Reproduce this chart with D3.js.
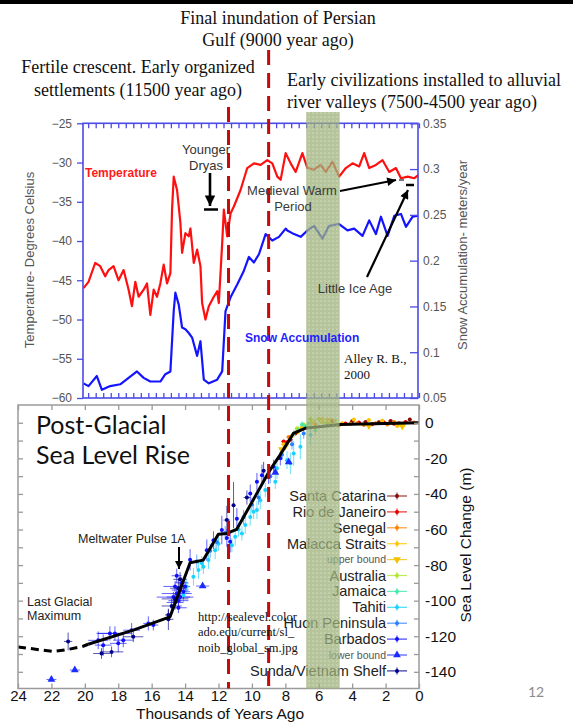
<!DOCTYPE html>
<html><head><meta charset="utf-8">
<script src="https://cdn.jsdelivr.net/npm/d3@7"></script>
<style>body{margin:0;background:#fff}svg{display:block}</style>
</head><body>
<svg id="c" width="573" height="722"></svg>
<script>
// ---------------- DATA ----------------
// GISP2 temperature (kyr BP, deg C)
const temperature = [[20.08,-46.0],[19.78,-45.2],[19.38,-42.8],[19.08,-43.2],[18.78,-44.5],[18.58,-43.7],[18.28,-43.2],[17.98,-45.0],[17.68,-43.7],[17.38,-46.2],[17.18,-48.3],[16.98,-45.2],[16.78,-47.1],[16.48,-46.2],[16.28,-45.4],[16.08,-49.4],[15.88,-46.2],[15.68,-47.1],[15.48,-45.4],[15.28,-43.0],[15.08,-45.4],[14.88,-44.1],[14.78,-36.0],[14.68,-31.8],[14.48,-33.5],[14.28,-37.7],[14.18,-41.5],[13.98,-39.0],[13.78,-39.4],[13.68,-38.4],[13.48,-42.8],[13.28,-41.1],[13.08,-43.2],[12.98,-47.9],[12.78,-50.0],[12.58,-48.3],[12.28,-47.1],[12.08,-46.4],[11.98,-47.9],[11.78,-40.3],[11.68,-36.0],[11.48,-39.4],[11.28,-36.5],[11.08,-35.6],[10.68,-33.5],[10.28,-30.7],[9.88,-30.1],[9.48,-30.3],[9.08,-29.7],[8.78,-30.1],[8.48,-31.8],[8.28,-32.2],[7.98,-28.8],[7.68,-30.1],[7.38,-31.2],[6.98,-28.8],[6.68,-30.7],[6.28,-30.9],[5.88,-30.3],[5.58,-31.2],[5.18,-29.9],[4.78,-31.8],[4.38,-30.7],[3.98,-30.1],[3.58,-30.5],[3.28,-28.8],[2.98,-30.7],[2.58,-30.3],[2.18,-29.7],[1.78,-31.2],[1.38,-30.7],[1.08,-32.0],[0.68,-31.8],[0.28,-32.0],[0.04,-31.6]];
// GISP2 snow accumulation (kyr BP, m/yr)
const snow = [[20.08,0.066],[19.78,0.063],[19.28,0.074],[18.98,0.059],[18.48,0.063],[17.88,0.065],[17.38,0.072],[16.88,0.079],[16.48,0.072],[16.08,0.068],[15.48,0.068],[15.18,0.076],[14.88,0.079],[14.68,0.145],[14.58,0.165],[14.38,0.152],[14.18,0.127],[13.98,0.125],[13.78,0.121],[13.58,0.116],[13.28,0.096],[13.08,0.112],[12.88,0.070],[12.58,0.066],[12.08,0.070],[11.78,0.079],[11.58,0.145],[11.28,0.160],[10.88,0.174],[10.48,0.189],[10.18,0.204],[9.88,0.198],[9.58,0.207],[9.18,0.229],[8.78,0.222],[8.38,0.226],[7.98,0.235],[7.88,0.233],[7.48,0.229],[7.08,0.226],[6.68,0.233],[6.28,0.238],[5.78,0.224],[5.38,0.238],[4.78,0.240],[4.28,0.233],[3.88,0.235],[3.38,0.227],[2.98,0.244],[2.58,0.229],[2.28,0.248],[1.88,0.227],[1.48,0.249],[1.08,0.251],[0.78,0.237],[0.38,0.248],[0.04,0.249]];
// Sea level fit (kyr BP, m)
const seaFitDashed = [[24,-126],[21.9,-128.6],[21.0,-127.4],[20.1,-125.6],[19.8,-124.5]];
const seaFit = [[19.8,-124.5],[17.10,-116.6],[14.90,-109.1],[13.70,-78.7],[12.91,-77.2],[12.01,-62.7],[11.51,-62.2],[10.91,-59.9],[8.92,-26.6],[8.32,-18.2],[7.52,-6.0],[6.82,-3.1],[4.73,-0.9],[0,0]];
// Sea level observations [kyr BP, m, age err, depth err]
const santaCatarina = [[0.55,1.8,0.1,1],[1.7,1.0,0.15,0.8],[2.4,0.3,0.15,0.8],[3.2,0.5,0.15,0.8],[1.2,-0.3,0.15,0.8],[4.0,0.8,0.15,0.8]];
const rioDeJaneiro = [[0.8,0.5,0.15,0.8],[1.5,-0.5,0.15,0.8],[2.1,0.2,0.15,0.8],[2.8,-0.8,0.15,0.8],[3.6,0.2,0.15,0.8],[4.4,-0.4,0.15,0.8],[5.2,0.9,0.15,0.8],[7.7,-9.5,0.15,1],[7.9,-11,0.15,1],[7.4,-6,0.15,1],[8.1,-10.5,0.15,1]];
const senegal = [[0.3,0.2,0.15,0.8],[1.0,-0.8,0.15,0.8],[1.9,-1.0,0.15,0.8],[2.6,-0.2,0.15,0.8],[3.3,-1.2,0.15,0.8],[4.1,-0.6,0.15,0.8],[4.8,-1.5,0.15,0.8],[5.5,-0.5,0.15,0.8],[6.2,-1.0,0.15,0.8],[7.3,-5,0.15,1],[7.8,-8,0.15,1],[1.5,0.5,0.15,0.8],[3.7,-0.3,0.15,0.8]];
const malacca = [[1.3,-1.8,0.15,1],[2.2,1.2,0.15,1],[3.0,1.5,0.15,1],[4.6,-0.2,0.15,1],[5.8,0.5,0.15,1],[6.6,-1.5,0.15,1],[7.0,-2.5,0.15,1],[7.6,-7.5,0.15,1],[8.1,-12,0.15,1],[3.9,1.8,0.15,1]];
const upperBound = [[5.4,1.5,0.3,0],[5.9,2,0.3,0],[6.4,0.5,0.3,0],[8.0,-13,0.2,0],[8.2,-15,0.2,0],[7.2,-4,0.2,0],[3.0,-1.5,0.2,0],[1.0,-1.8,0.2,0]];
const australia = [[5.0,1,0.15,1],[5.6,0,0.15,1.5],[6.0,1.8,0.15,1],[6.5,2.2,0.15,1.5],[6.9,-1,0.15,1],[7.3,-3.2,0.15,1.5],[5.3,-0.5,0.15,1]];
const jamaica = [[6.8,-2,0.1,1.5],[7.2,-4,0.1,2],[7.0,-1,0.1,2],[6.6,-0.5,0.1,1.5],[7.5,-6,0.1,2],[6.2,-4,0.1,3]];
const tahiti = [[14.1,-96.9,0.05,4],[13.9,-92.2,0.05,4],[13.5,-86.6,0.05,5],[13.2,-82.8,0.05,5],[13.0,-79,0.05,4],[12.9,-81,0.05,4],[12.6,-77.2,0.05,5],[12.2,-71.6,0.05,5],[12.0,-68,0.05,4],[11.2,-68.8,0.05,4],[11.0,-64.1,0.05,5],[10.8,-60,0.05,4],[10.6,-62.2,0.05,4],[10.4,-57.5,0.05,5],[10.1,-52.9,0.05,5],[9.9,-50,0.05,4],[9.7,-49.1,0.05,5],[9.5,-43.5,0.05,5],[9.2,-37.8,0.05,4],[8.6,-33.2,0.05,4],[8.5,-25.6,0.05,6],[7.9,-21,0.05,5],[7.7,-22.8,0.05,6],[7.5,-17.2,0.05,7],[7.1,-13.5,0.05,7],[6.5,-6.9,0.05,6]];
const huon = [[13.3,-78,0.1,4],[12.5,-72,0.1,4],[11.6,-62,0.1,4],[10.5,-53,0.1,4],[9.6,-42,0.1,4],[8.9,-30,0.1,4],[8.2,-18,0.1,3],[7.6,-12,0.1,3],[6.9,-6,0.1,3],[12.1,-67,0.1,4],[10.0,-46,0.1,4]];
const barbados = [[19.2,-122.3,0.6,5],[18.9,-125,0.5,6],[18.5,-118.4,0.8,4],[18.2,-118.4,1.0,4],[18.0,-124,0.5,5],[17.7,-122.2,0.6,4],[17.2,-116.6,0.5,4],[16.2,-112.8,0.3,4],[15.9,-113.7,0.3,3],[14.6,-92,0.7,3],[14.5,-96,0.9,3],[14.4,-100,0.6,4],[14.7,-98,1.0,3],[14.3,-94,0.5,4],[14.2,-90,0.4,3],[14.5,-86,0.3,4],[14.4,-104,0.5,3],[14.3,-98,0.8,3],[14.6,-101,0.5,4],[14.1,-95,0.4,4],[14.0,-92,0.3,3],[13.7,-77,0.1,6],[12.7,-71.6,0.1,6],[11.8,-60.3,0.1,8],[11.5,-64.8,0.1,5],[11.3,-66.9,0.1,6],[10.1,-39.7,0.1,5],[9.7,-33.2,0.1,5],[9.4,-29.5,0.1,6],[9.0,-30.4,0.1,4],[8.7,-24.7,0.1,4],[8.3,-20,0.1,4],[10.9,-54,0.1,6],[12.3,-66,0.1,5]];
const lowerBound = [[22.0,-144.3,0.3,0],[20.6,-139,0.3,0],[12.95,-91.8,0.4,0],[7.8,-22,0.1,0],[8.6,-28,0.1,0]];
const sunda = [[21.0,-122.9,0.25,5],[19.0,-129.7,0.5,3],[18.4,-128.8,0.7,3],[17.1,-120.3,0.6,3],[15.0,-110.5,0.3,6],[15.0,-108,0.2,3],[14.8,-103,0.6,4],[14.6,-99,0.8,3],[14.4,-93,0.5,5],[14.3,-88,0.4,4],[11.5,-54.7,0.2,8],[11.1,-46.3,0.1,13],[10.3,-42,0.2,4],[9.3,-27,0.1,5]];
// events and periods (kyr BP)
const eventAges = [11.4, 9.0];
const civBand = [6.75, 4.75];
// tick values
const tempTicks = [-25,-30,-35,-40,-45,-50,-55,-60];
const snowTicks = [0.05,0.1,0.15,0.2,0.25,0.3,0.35];
const ageTicks = [24,22,20,18,16,14,12,10,8,6,4,2,0];
const seaTicks = [0,-20,-40,-60,-80,-100,-120,-140];

// ---------------- CHART ----------------
const svg = d3.select("#c");
const SANS = "'Liberation Sans', Arial, sans-serif";
const SERIF = "'Liberation Serif', 'Times New Roman', serif";

const x = d3.scaleLinear().domain([24,0]).range([18,419]);
const yT = d3.scaleLinear().domain([-60,-25]).range([398,123.3]);
const yS = d3.scaleLinear().domain([0.05,0.35]).range([398,123.3]);
const yM = d3.scaleLinear().domain([-150,10]).range([689.6,405]);

const defs = svg.append("defs");
const pat = defs.append("pattern").attr("id","dots").attr("width",4).attr("height",4).attr("patternUnits","userSpaceOnUse");
pat.append("rect").attr("width",4).attr("height",4).attr("fill","#9cb078");
pat.append("circle").attr("cx",1).attr("cy",1).attr("r",0.6).attr("fill","#fff").attr("opacity",0.85);
defs.append("clipPath").attr("id","lowclip").append("rect").attr("x",18).attr("y",405).attr("width",401).attr("height",283.5);
const ah = defs.append("marker").attr("id","ah").attr("viewBox","0 0 10 10").attr("refX",10).attr("refY",5)
  .attr("markerWidth",4.5).attr("markerHeight",4).attr("orient","auto").attr("markerUnits","strokeWidth");
ah.append("path").attr("d","M0,0L10,5L0,10Z").attr("fill","#000");

// top slide border
svg.append("rect").attr("x",0).attr("y",0).attr("width",573).attr("height",4).attr("fill","#000");

// ---- top panel ----
const BLUE = "#4a4ae6";
const lineT = d3.line().x(d=>x(d[0])).y(d=>yT(d[1]));
const lineS = d3.line().x(d=>x(d[0])).y(d=>yS(d[1]));
svg.append("path").attr("d",lineS(snow)).attr("fill","none").attr("stroke","#1414ff").attr("stroke-width",2.2).attr("stroke-linejoin","round");
svg.append("path").attr("d",lineT(temperature)).attr("fill","none").attr("stroke","#ff1010").attr("stroke-width",2.2).attr("stroke-linejoin","round");

function styleAxis(g, color, labelColor, size){
  g.selectAll(".domain").remove();
  g.selectAll(".tick line").attr("stroke",color).attr("stroke-width",1.3);
  g.selectAll(".tick text").attr("fill",labelColor).attr("font-family",SANS).attr("font-size",size);
}
const gL = svg.append("g").attr("transform","translate(83,0)")
  .call(d3.axisLeft(yT).tickValues(tempTicks).tickSizeInner(6).tickSizeOuter(0).tickPadding(5));
styleAxis(gL, BLUE, "#555", 12);
const gR = svg.append("g").attr("transform","translate(418,0)")
  .call(d3.axisRight(yS).tickValues(snowTicks).tickSizeInner(-8).tickSizeOuter(0).tickPadding(5).tickFormat(d3.format(".2~f")));
styleAxis(gR, BLUE, "#555", 12);
const topTicks = d3.range(0, 20.1, 0.45);
const gTt = svg.append("g").attr("transform","translate(0,123.3)")
  .call(d3.axisTop(x).tickValues(topTicks).tickSizeInner(-5).tickSizeOuter(0).tickFormat(""));
styleAxis(gTt, BLUE, "#555", 12);
const gTb = svg.append("g").attr("transform","translate(0,398)")
  .call(d3.axisBottom(x).tickValues(topTicks).tickSizeInner(-5).tickSizeOuter(0).tickFormat(""));
styleAxis(gTb, BLUE, "#555", 12);
svg.append("rect").attr("x",83).attr("y",123.3).attr("width",335).attr("height",274.7)
  .attr("fill","none").attr("stroke",BLUE).attr("stroke-width",1.6);

svg.append("text").attr("transform","translate(34,260) rotate(-90)").attr("text-anchor","middle")
  .attr("font-family",SANS).attr("font-size",13).attr("fill","#555").text("Temperature- Degrees Celsius");
svg.append("text").attr("transform","translate(467,255) rotate(-90)").attr("text-anchor","middle")
  .attr("font-family",SANS).attr("font-size",13).attr("fill","#555").text("Snow Accumulation- meters/year");

// ---- lower panel ----
const low = svg.append("g").attr("clip-path","url(#lowclip)");
const sites = [
  {name:"Santa Catarina", color:"#8b0a0a", sym:"dot", data:santaCatarina},
  {name:"Rio de Janeiro", color:"#e60000", sym:"dot", data:rioDeJaneiro},
  {name:"Senegal", color:"#ff8000", sym:"dot", data:senegal},
  {name:"Malacca Straits", color:"#ffc400", sym:"dot", data:malacca},
  {name:"upper bound", color:"#f2c200", sym:"down", data:upperBound, small:true},
  {name:"Australia", color:"#b2e62a", sym:"dot", data:australia},
  {name:"Jamaica", color:"#40eaa8", sym:"dot", data:jamaica},
  {name:"Tahiti", color:"#18d2ff", sym:"dot", data:tahiti},
  {name:"Huon Peninsula", color:"#2a7fff", sym:"dot", data:huon},
  {name:"Barbados", color:"#1010ff", sym:"dot", data:barbados},
  {name:"lower bound", color:"#1a2cff", sym:"up", data:lowerBound, small:true},
  {name:"Sunda/Vietnam Shelf", color:"#00008b", sym:"dot", data:sunda}
];
const tri = d3.symbol().type(d3.symbolTriangle).size(26);
function drawMark(g, sym, color, cx, cy){
  if(sym==="dot") g.append("circle").attr("cx",cx).attr("cy",cy).attr("r",2).attr("fill",color);
  else g.append("path").attr("d",tri()).attr("fill",color)
    .attr("transform",`translate(${cx},${cy})${sym==="down"?" rotate(180)":""}`);
}
sites.forEach(s=>{
  s.data.forEach(d=>{
    const cx=x(d[0]), cy=yM(d[1]);
    if(d[2]>0) low.append("line").attr("x1",x(d[0]+d[2])).attr("x2",x(d[0]-d[2])).attr("y1",cy).attr("y2",cy)
      .attr("stroke",s.color).attr("stroke-width",1).attr("opacity",0.65);
    if(d[3]>0) low.append("line").attr("x1",cx).attr("x2",cx).attr("y1",yM(d[1]-d[3])).attr("y2",yM(d[1]+d[3]))
      .attr("stroke",s.color).attr("stroke-width",1).attr("opacity",0.65);
  });
});
sites.forEach(s=>{ s.data.forEach(d=> drawMark(low, s.sym, s.color, x(d[0]), yM(d[1]))); });

const lineM = d3.line().x(d=>x(d[0])).y(d=>yM(d[1]));
low.append("path").attr("d",lineM(seaFitDashed)).attr("fill","none").attr("stroke","#000").attr("stroke-width",3).attr("stroke-dasharray","8,5");
low.append("path").attr("d",lineM(seaFit)).attr("fill","none").attr("stroke","#000").attr("stroke-width",3).attr("stroke-linejoin","round");

const GRAY = "#9a9a9a";
const gBb = svg.append("g").attr("transform","translate(0,688.5)")
  .call(d3.axisBottom(x).tickValues(ageTicks).tickSizeInner(-5).tickSizeOuter(0).tickPadding(2));
styleAxis(gBb, GRAY, "#111", 15);
const gBt = svg.append("g").attr("transform","translate(0,405)")
  .call(d3.axisTop(x).tickValues(ageTicks).tickSizeInner(-5).tickSizeOuter(0).tickFormat(""));
styleAxis(gBt, GRAY, "#111", 16);
const minor = d3.range(-140, 10, 10);
const gBl = svg.append("g").attr("transform","translate(18,0)")
  .call(d3.axisLeft(yM).tickValues(minor).tickSizeInner(-5).tickSizeOuter(0).tickFormat(""));
styleAxis(gBl, GRAY, "#111", 16);
const gBr = svg.append("g").attr("transform","translate(419,0)")
  .call(d3.axisRight(yM).tickValues(minor).tickSizeInner(-5).tickSizeOuter(0).tickPadding(6)
    .tickFormat(d=> seaTicks.includes(d) ? d : ""));
styleAxis(gBr, GRAY, "#111", 15.5);
svg.append("rect").attr("x",18).attr("y",405).attr("width",401).attr("height",283.5)
  .attr("fill","none").attr("stroke",GRAY).attr("stroke-width",1.5);

svg.append("text").attr("transform","translate(471,545) rotate(-90)").attr("text-anchor","middle")
  .attr("font-family",SANS).attr("font-size",15.5).attr("fill","#111").text("Sea Level Change (m)");
svg.append("text").attr("x",220).attr("y",718.5).attr("text-anchor","middle")
  .attr("font-family",SANS).attr("font-size",15.5).attr("fill","#111").text("Thousands of Years Ago");

// legend
const leg = svg.append("g");
sites.forEach((s,i)=>{
  const ly = 496 + i*15.9;
  leg.append("text").attr("x",386).attr("y",ly).attr("dy","0.35em").attr("text-anchor","end")
    .attr("font-family",SANS).attr("font-size", s.small?10.5:14.5).attr("fill", s.small?"#555":"#222").text(s.name);
  leg.append("line").attr("x1",387).attr("x2",407).attr("y1",ly).attr("y2",ly).attr("stroke",s.color).attr("stroke-width",1.2).attr("opacity",0.8);
  if(s.sym==="dot") leg.append("line").attr("x1",397).attr("x2",397).attr("y1",ly-3.5).attr("y2",ly+3.5).attr("stroke",s.color).attr("stroke-width",1.2).attr("opacity",0.8);
  drawMark(leg, s.sym, s.color, 397, ly);
});

// civilization band (semi-opaque, dotted)
svg.append("rect").attr("x",x(civBand[0])).attr("y",112).attr("width",x(civBand[1])-x(civBand[0])).attr("height",576.5)
  .attr("fill","url(#dots)").attr("opacity",0.75);

// event dashed lines
const eventTops = [107, 50];
eventAges.forEach((a,i)=>{
  svg.append("line").attr("x1",x(a)).attr("x2",x(a)).attr("y1",eventTops[i]).attr("y2",688.5)
    .attr("stroke","#c40a0a").attr("stroke-width",3).attr("stroke-dasharray","15,8");
});

// ---- annotations (top panel) ----
function txt(xp,yp,s,opt={}){
  return svg.append("text").attr("x",xp).attr("y",yp).attr("text-anchor",opt.anchor||"start")
    .attr("font-family",opt.family||SANS).attr("font-size",opt.size||12).attr("font-weight",opt.weight||"normal")
    .attr("fill",opt.fill||"#222").text(s);
}
txt(85,177,"Temperature",{fill:"#ff1a1a",weight:"bold",size:12});
txt(245,342,"Snow Accumulation",{fill:"#1f1fff",weight:"bold",size:12});
txt(206,154,"Younger",{anchor:"middle",size:13,fill:"#333"});
txt(206,170,"Dryas",{anchor:"middle",size:13,fill:"#333"});
svg.append("line").attr("x1",210).attr("y1",173).attr("x2",210).attr("y2",206).attr("stroke","#000").attr("stroke-width",2.6).attr("marker-end","url(#ah)");
svg.append("line").attr("x1",204).attr("y1",209.5).attr("x2",218).attr("y2",209.5).attr("stroke","#000").attr("stroke-width",2.5);
txt(292,195,"Medieval Warm",{anchor:"middle",size:13,fill:"#3a3a3a"});
txt(293,211,"Period",{anchor:"middle",size:13,fill:"#3a3a3a"});
svg.append("line").attr("x1",340).attr("y1",191).attr("x2",396).attr("y2",180).attr("stroke","#000").attr("stroke-width",2.2).attr("marker-end","url(#ah)");
svg.append("line").attr("x1",399).attr("y1",180).attr("x2",404).attr("y2",180).attr("stroke","#777").attr("stroke-width",2);
svg.append("line").attr("x1",406).attr("y1",185).attr("x2",414).attr("y2",185).attr("stroke","#000").attr("stroke-width",2.5);
txt(355,293,"Little Ice Age",{anchor:"middle",size:13,fill:"#3a3a3a"});
svg.append("line").attr("x1",367).attr("y1",277).attr("x2",408).attr("y2",190).attr("stroke","#000").attr("stroke-width",2.2).attr("marker-end","url(#ah)");
txt(344,363,"Alley R. B.,",{family:SERIF,size:13,fill:"#111"});
txt(344,379,"2000",{family:SERIF,size:13,fill:"#111"});

// ---- annotations (lower panel) ----
txt(36,434,"Post-Glacial",{family:"Lato, 'Open Sans', sans-serif",size:25,fill:"#111"});
txt(36,464,"Sea Level Rise",{family:"Lato, 'Open Sans', sans-serif",size:25,fill:"#111"});
txt(78,543,"Meltwater Pulse 1A",{size:12.5,fill:"#222"});
svg.append("line").attr("x1",179).attr("y1",547).attr("x2",179).attr("y2",569).attr("stroke","#000").attr("stroke-width",2).attr("marker-end","url(#ah)");
txt(27,606,"Last Glacial",{size:12.5,fill:"#222"});
txt(27,620,"Maximum",{size:12.5,fill:"#222"});
txt(198,621,"http://sealevel.color",{family:SERIF,size:12.5,fill:"#111"});
txt(198,636,"ado.edu/current/sl_",{family:SERIF,size:12.5,fill:"#111"});
txt(198,652,"noib_global_sm.jpg",{family:SERIF,size:12.5,fill:"#111"});

// ---- slide titles ----
const tOpt = {family:SERIF,size:18,fill:"#111",anchor:"middle"};
txt(278,24,"Final inundation of Persian",tOpt);
txt(278,46,"Gulf (9000 year ago)",tOpt);
txt(138,73,"Fertile crescent. Early organized",tOpt);
txt(138,96,"settlements (11500 year ago)",tOpt);
txt(287,86,"Early civilizations installed to alluvial",{family:SERIF,size:18,fill:"#111"});
txt(287,108,"river valleys (7500-4500 year ago)",{family:SERIF,size:18,fill:"#111"});
txt(536,697,"12",{family:"Lato, sans-serif",size:14,fill:"#8c8c8c",anchor:"middle"});
</script>
</body></html>
